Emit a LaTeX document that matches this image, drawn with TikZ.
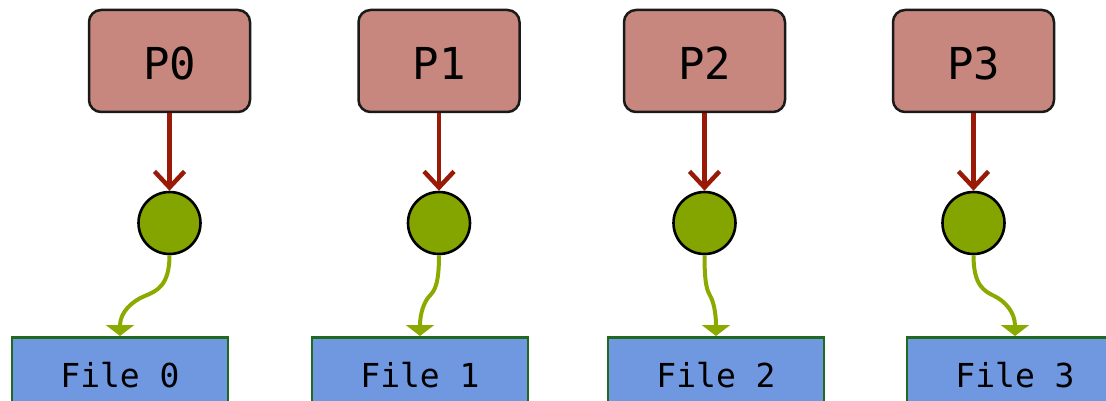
\documentclass[tikz,border=0pt]{standalone}
\usepackage{fontspec}
\setmonofont{DejaVu Sans Mono}
\usetikzlibrary{arrows.meta}
\definecolor{pfill}{HTML}{C8877E}
\definecolor{pborder}{HTML}{1A1A1A}
\definecolor{ffill}{HTML}{6F98E0}
\definecolor{fborder}{HTML}{1F6A1F}
\definecolor{cfill}{HTML}{84A400}
\definecolor{garrow}{HTML}{8BAA00}
\definecolor{rarrow}{HTML}{9A1A08}
\tikzset{
  x=1pt, y=-1pt,
  procbox/.style={draw=pborder, line width=2.5pt, fill=pfill, rounded corners=12pt,
    minimum width=161pt, minimum height=102pt, inner sep=0pt, text depth=0pt,
    font=\ttfamily\fontsize{44}{44}\selectfont},
  dotnode/.style={circle, draw=black, line width=2.6pt, fill=cfill, minimum size=62pt, inner sep=0pt},
  filebox/.style={draw=fborder, line width=2.5pt, fill=ffill,
    minimum width=216pt, minimum height=76pt, inner sep=0pt,
    font=\ttfamily\fontsize{33}{33}\selectfont, text depth=0pt},
  redarrow/.style={draw=rarrow, line width=4.5pt, -{Straight Barb[length=16pt,width=30pt,line width=4.5pt]}},
  greenarrow/.style={draw=garrow, line width=4pt, -{Triangle[length=11pt,width=28pt]}},
}
\begin{document}
\begin{tikzpicture}
\useasboundingbox (0,0) rectangle (1106,401);
\foreach \i/\px/\fx in {0/169.5/120, 1/439/420, 2/704.5/716, 3/973.5/1015} {
  \pgfmathsetmacro{\h}{(\fx-\px)/4}
  \node[procbox] (p\i) at (\px,61) {\raisebox{-5pt}{P\i}};
  \node[dotnode] (c\i) at (\px,223) {};
  \node[filebox, anchor=north] (f\i) at (\fx,336) {File \i};
  \coordinate (m\i) at ({(\px+\fx)/2},296);
  \draw[greenarrow] (c\i.south) .. controls +(0,30) and +({-\h},-5) .. (m\i)
      .. controls +({\h},5) and +(0,-24) .. (f\i.north);
  \draw[redarrow] (p\i.south) -- (c\i.north);
}
\end{tikzpicture}
\end{document}
